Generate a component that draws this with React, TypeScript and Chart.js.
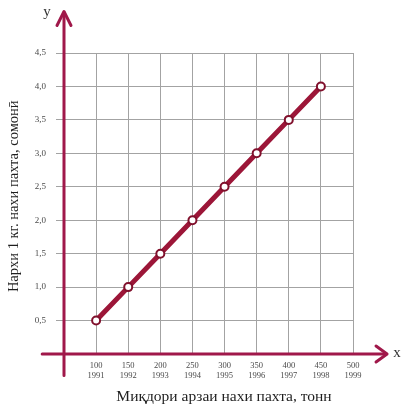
import React, { useEffect, useRef } from "react";
import { Chart, registerables } from "chart.js";

Chart.register(...registerables);

const quantities = [100, 150, 200, 250, 300, 350, 400, 450];
const prices = [0.5, 1.0, 1.5, 2.0, 2.5, 3.0, 3.5, 4.0];
const xTickValues = [100, 150, 200, 250, 300, 350, 400, 450, 500];
const years = ["1991", "1992", "1993", "1994", "1995", "1996", "1997", "1998", "1999"];
const yTickValues = [0.5, 1.0, 1.5, 2.0, 2.5, 3.0, 3.5, 4.0, 4.5];
const xTitle = "Миқдори арзаи нахи пахта, тонн";
const yTitle = "Нархи 1 кг. нахи пахта, сомонӣ";

const AXIS = "#a0184a";
const LINE = "#9c1638";
const SERIF = "'Liberation Serif', 'DejaVu Serif', serif";

const axesPlugin = {
  id: "arrowAxes",
  afterDraw(chart: any) {
    const { ctx, scales } = chart;
    const xs = scales.x;
    const ys = scales.y;
    const x0 = xs.getPixelForValue(50);
    const y0 = ys.getPixelForValue(0);
    const yTop = ys.getPixelForValue(5.12);
    const yBot = ys.getPixelForValue(-0.32);
    const xLeft = xs.getPixelForValue(16);
    const xRight = xs.getPixelForValue(553);
    ctx.save();
    ctx.strokeStyle = AXIS;
    ctx.lineWidth = 3;
    ctx.lineCap = "round";
    ctx.lineJoin = "round";
    ctx.beginPath();
    ctx.moveTo(x0, yBot);
    ctx.lineTo(x0, yTop + 1);
    ctx.moveTo(xLeft, y0);
    ctx.lineTo(xRight - 1, y0);
    ctx.stroke();
    ctx.beginPath();
    ctx.moveTo(x0 - 7, yTop + 14);
    ctx.lineTo(x0, yTop);
    ctx.lineTo(x0 + 7, yTop + 14);
    ctx.moveTo(xRight - 11, y0 - 8);
    ctx.lineTo(xRight, y0);
    ctx.lineTo(xRight - 11, y0 + 8);
    ctx.stroke();
    ctx.fillStyle = "#333";
    ctx.font = `15px ${SERIF}`;
    ctx.textAlign = "center";
    ctx.textBaseline = "middle";
    ctx.fillText("y", x0 - 17, yTop + 1);
    ctx.fillText("x", xRight + 10, y0 - 1);
    ctx.restore();
  },
};

export default function App() {
  const ref = useRef<HTMLCanvasElement>(null);
  useEffect(() => {
    if (!ref.current) return;
    const chart = new Chart(ref.current, {
      type: "line",
      data: {
        datasets: [
          {
            data: quantities.map((q, i) => ({ x: q, y: prices[i] })),
            borderColor: LINE,
            borderWidth: 5,
            pointRadius: 4,
            pointBorderWidth: 2,
            pointBackgroundColor: "#ffffff",
            pointBorderColor: "#80102c",
            tension: 0,
          },
        ],
      },
      plugins: [axesPlugin],
      options: {
        animation: false,
        responsive: false,
        devicePixelRatio: 1,
        layout: { padding: { top: 53, right: 49, left: 0, bottom: 0 } },
        plugins: { legend: { display: false }, tooltip: { enabled: false } },
        scales: {
          x: {
            type: "linear",
            min: 50,
            max: 500,
            afterBuildTicks: (scale: any) => {
              scale.ticks = xTickValues.map((v) => ({ value: v }));
            },
            afterFit: (scale: any) => {
              scale.height = 52;
            },
            grid: { color: "#a3a3a3", lineWidth: 1, drawTicks: false },
            border: { display: false },
            ticks: {
              padding: 7,
              maxRotation: 0,
              autoSkip: false,
              color: "#4a4a4a",
              font: { family: SERIF, size: 8.5, lineHeight: 1.15 },
              callback: (value: any) => {
                const i = xTickValues.indexOf(Number(value));
                return [String(value), years[i] ?? ""];
              },
            },
            title: {
              display: true,
              text: "        " + xTitle,
              color: "#1e1e1e",
              font: { family: SERIF, size: 15.5 },
              padding: { top: 0, bottom: 0 },
            },
          },
          y: {
            type: "linear",
            min: 0,
            max: 4.5,
            afterBuildTicks: (scale: any) => {
              scale.ticks = yTickValues.map((v) => ({ value: v }));
            },
            afterFit: (scale: any) => {
              scale.width = 64;
            },
            grid: { color: "#a3a3a3", lineWidth: 1, drawTicks: true, tickLength: 8 },
            border: { display: false },
            ticks: {
              padding: 10,
              color: "#4a4a4a",
              font: { family: SERIF, size: 9 },
              callback: (value: any) => Number(value).toFixed(1).replace(".", ","),
            },
            title: {
              display: true,
              text: "    " + yTitle,
              color: "#1e1e1e",
              font: { family: SERIF, size: 14.5 },
              padding: { top: 5, bottom: 0 },
            },
          },
        },
      },
    });
    return () => chart.destroy();
  }, []);
  return (
    <div style={{ position: "absolute", left: 0, top: 0, width: 402, height: 406, background: "#fff" }}>
      <canvas ref={ref} width={402} height={406} />
    </div>
  );
}
